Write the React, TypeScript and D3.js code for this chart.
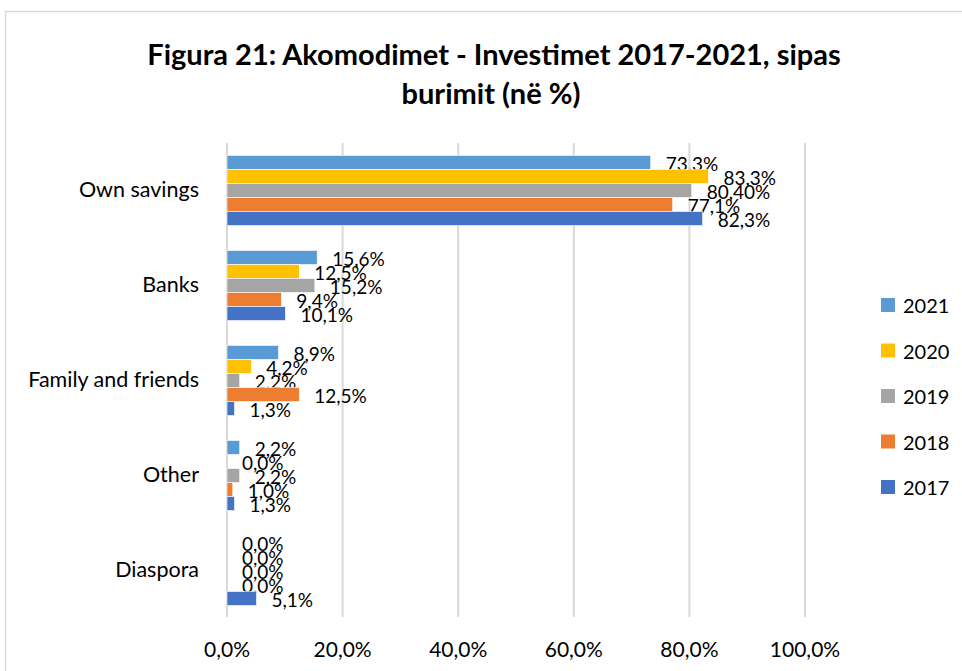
import React from "react";
import * as d3 from "d3";

const categories = ["Own savings", "Banks", "Family and friends", "Other", "Diaspora"];
const seriesNames = ["2021", "2020", "2019", "2018", "2017"];
const seriesColors = ["#5B9BD5", "#FFC000", "#A5A5A5", "#ED7D31", "#4472C4"];
const values2021 = [73.3, 15.6, 8.9, 2.2, 0.0];
const values2020 = [83.3, 12.5, 4.2, 0.0, 0.0];
const values2019 = [80.4, 15.2, 2.2, 2.2, 0.0];
const values2018 = [77.1, 9.4, 12.5, 1.0, 0.0];
const values2017 = [82.3, 10.1, 1.3, 1.3, 5.1];
const labels2021 = ["73,3%", "15,6%", "8,9%", "2,2%", "0,0%"];
const labels2020 = ["83,3%", "12,5%", "4,2%", "0,0%", "0,0%"];
const labels2019 = ["80,40%", "15,2%", "2,2%", "2,2%", "0,0%"];
const labels2018 = ["77,1%", "9,4%", "12,5%", "1,0%", "0,0%"];
const labels2017 = ["82,3%", "10,1%", "1,3%", "1,3%", "5,1%"];
const xTicks = [0, 20, 40, 60, 80, 100];
const xTickLabels = ["0,0%", "20,0%", "40,0%", "60,0%", "80,0%", "100,0%"];

const seriesValues = [values2021, values2020, values2019, values2018, values2017];
const seriesLabels = [labels2021, labels2020, labels2019, labels2018, labels2017];

const W = 962;
const H = 671;
const FONT = "Lato, 'Open Sans', sans-serif";

export default function App() {
  const x = d3.scaleLinear().domain([0, 100]).range([227, 805]);
  const y = d3.scaleBand<string>().domain(categories).range([143, 618]).padding(0);
  const inner = d3
    .scaleBand<string>()
    .domain(seriesNames)
    .range([0, y.bandwidth()])
    .paddingInner(0)
    .paddingOuter(0.89);

  return (
    <svg
      width={W}
      height={H}
      style={{ position: "absolute", left: 0, top: 0, background: "#fff" }}
      fontFamily={FONT}
    >
      <rect x={0} y={0} width={W} height={H} fill="#fff" />
      <rect x={5.5} y={11.5} width={W + 20} height={H + 20} fill="none" stroke="#d9d9d9" strokeWidth={1.5} />
      <text x={494} y={65} textAnchor="middle" fontSize={29} fontWeight={700} fill="#000">
        Figura 21: Akomodimet - Investimet 2017-2021, sipas
      </text>
      <text x={491} y={103.5} textAnchor="middle" fontSize={29} fontWeight={700} fill="#000">
        burimit (në %)
      </text>
      {xTicks.map((t, i) => (
        <g key={t}>
          <line x1={x(t)} x2={x(t)} y1={143} y2={617} stroke="#d9d9d9" strokeWidth={2} />
          <text x={x(t)} y={648.5} textAnchor="middle" dominantBaseline="central" fontSize={21} fill="#000">
            {xTickLabels[i]}
          </text>
        </g>
      ))}
      {categories.map((c) => (
        <text
          key={c}
          x={199}
          y={(y(c) as number) + y.bandwidth() / 2 - 1.5}
          textAnchor="end"
          dominantBaseline="central"
          fontSize={21.5}
          fill="#000"
        >
          {c}
        </text>
      ))}
      {seriesNames.map((s, si) =>
        categories.map((c, ci) => {
          const v = seriesValues[si][ci];
          const y0 = (y(c) as number) + (inner(s) as number);
          return (
            <g key={s + c}>
              {v > 0 && (
                <rect
                  x={x(0)}
                  y={y0}
                  width={x(v) - x(0)}
                  height={inner.bandwidth()}
                  fill={seriesColors[si]}
                  stroke="#fff"
                  strokeWidth={0.6}
                />
              )}
              <text
                x={x(v) + 15}
                y={y0 + inner.bandwidth() / 2 + 1}
                dominantBaseline="central"
                fontSize={19}
                fill="#000"
              >
                {seriesLabels[si][ci]}
              </text>
            </g>
          );
        })
      )}
      {seriesNames.map((s, si) => {
        const cy = 305 + si * 45.5;
        return (
          <g key={s}>
            <rect x={881} y={cy - 7} width={14} height={14} fill={seriesColors[si]} />
            <text x={903} y={cy} dominantBaseline="central" fontSize={20} fill="#000">
              {s}
            </text>
          </g>
        );
      })}
    </svg>
  );
}
